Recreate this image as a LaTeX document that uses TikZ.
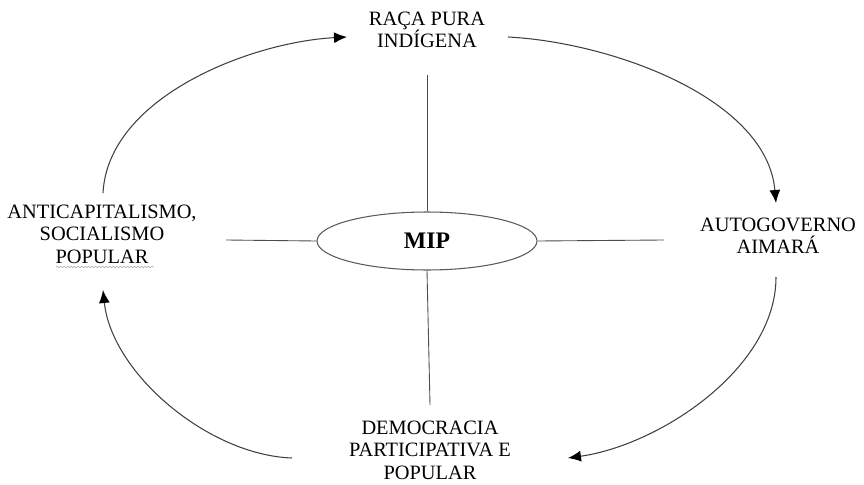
\documentclass[tikz,border=0pt]{standalone}
\usepackage{fontspec}
\setmainfont{Liberation Serif}
\usetikzlibrary{shapes.geometric, arrows.meta, positioning, calc, decorations.pathmorphing}

\begin{document}
\begin{tikzpicture}[x=0.02cm, y=0.02cm,
    theme/.style={align=center, font=\fontsize{11.6}{12.8}\selectfont, inner sep=2pt},
    cycle/.style={draw=black!75, line width=0.6pt, -{Latex[length=2.6mm,width=2.2mm,color=black]}},
    spoke/.style={draw=black!70, line width=0.5pt}]
\useasboundingbox (0,0) rectangle (864,484);

% Center
\node[ellipse, draw=black!65, line width=0.6pt, minimum width=4.4cm, minimum height=1.16cm,
      inner sep=0pt, font=\fontsize{13.5}{15}\selectfont\bfseries] (mip) at (427,243) {MIP};

% Themes
\node[theme] (raca) at (427,454) {RAÇA PURA\\INDÍGENA};
\node[theme] (auto) at (778,248) {AUTOGOVERNO\\AIMARÁ};
\node[theme] (demo) at (430,34) {DEMOCRACIA\\PARTICIPATIVA E\\POPULAR};
\node[theme] (anti) at (102,250) {ANTICAPITALISMO,\\SOCIALISMO\\POPULAR};

% Spokes
\coordinate (spokeN) at (427,409);
\coordinate (spokeS) at (430,79);
\coordinate (spokeW) at (226,244);
\coordinate (spokeE) at (664,244);
\draw[spoke] (spokeN) -- (mip.north);
\draw[spoke] (mip.south) -- (spokeS);
\draw[spoke] (spokeW) -- (mip.west);
\draw[spoke] (mip.east) -- (spokeE);

% Cycle
\draw[cycle] ([shift={(1,41)}]anti.center) to[out=87, in=183, looseness=0.85] ([shift={(-80,-7)}]raca.center);
\draw[cycle] ([shift={(81,-7)}]raca.center) to[out=-3, in=95, looseness=0.85] ([shift={(-2,33)}]auto.center);
\draw[cycle] ([shift={(-2,-41)}]auto.center) to[out=-90, in=8, looseness=0.85] ([shift={(138,-8)}]demo.center);
\draw[cycle] ([shift={(-138,-8)}]demo.center) to[out=178, in=-84, looseness=0.85] ([shift={(1,-56)}]anti.center);

% squiggle under POPULAR
\draw[gray!70, line width=0.3pt, decorate, decoration={snake, amplitude=0.4pt, segment length=2pt}]
    ([shift={(-46,-33)}]anti.center) -- ([shift={(52,-33)}]anti.center);
\end{tikzpicture}
\end{document}
